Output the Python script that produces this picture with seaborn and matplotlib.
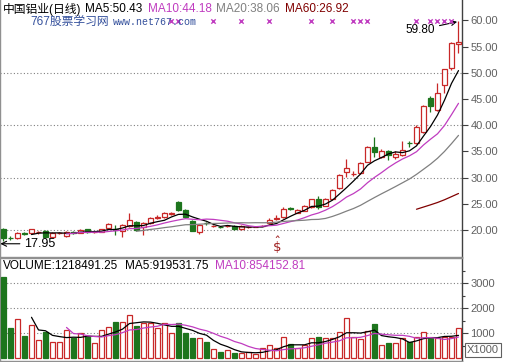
import numpy as np
import pandas as pd
import matplotlib
matplotlib.use('Agg')
import matplotlib.pyplot as plt
import matplotlib.transforms as mtransforms
from matplotlib.patches import Rectangle
import seaborn as sns

# daily bars (price in yuan, volume in thousands of lots)
opens = [20.1, 18.5, 18.5, 19.4, 19.4, 19.6, 19.9, 18.6, 19.35, 18.8,
         19.6, 19.5, 20.1, 19.6, 19.7, 20.3, 20.1, 19.9, 20.8, 21.6,
         20.5, 21.4, 22.2, 22.4, 23.1, 25.3, 23.9, 21.8, 19.7, 21.3,
         20.75, 20.55, 20.75, 20.8, 20.1, 20.55, 20.55, 20.75, 21.3, 22.1,
         22.4, 24.2, 23.3, 23.7, 24.3, 26.0, 24.6, 26.0, 28.0, 31.1,
         30.7, 30.9, 33.0, 35.9, 34.0, 35.1, 34.0, 34.3, 36.7, 36.6,
         38.8, 45.2, 43.0, 47.7, 51.0, 55.5]
highs = [20.3, 18.8, 19.7, 19.6, 20.2, 19.8, 20.0, 19.6, 19.6, 19.8,
         19.8, 20.1, 20.2, 19.8, 20.2, 21.3, 21.0, 21.2, 23.2, 21.8,
         21.5, 22.4, 22.8, 23.4, 23.4, 25.5, 24.0, 21.9, 21.1, 21.5,
         21.0, 20.6, 21.0, 20.9, 20.9, 20.8, 20.7, 20.9, 22.3, 22.9,
         24.3, 24.3, 24.0, 24.7, 26.0, 26.4, 26.1, 27.8, 30.6, 33.5,
         31.2, 32.9, 36.0, 37.7, 35.5, 35.3, 35.0, 37.0, 37.0, 40.0,
         43.8, 45.6, 48.0, 50.8, 55.8, 59.8]
lows = [17.95, 18.1, 18.3, 19.0, 19.3, 19.3, 18.6, 18.4, 19.2, 18.6,
        19.3, 19.4, 19.5, 19.5, 19.6, 20.2, 19.0, 18.7, 20.6, 19.9,
        19.0, 21.2, 22.1, 22.2, 22.9, 23.6, 22.3, 19.8, 19.2, 21.0,
        20.6, 20.4, 20.6, 20.0, 20.0, 20.4, 20.5, 20.7, 21.2, 22.0,
        22.3, 23.8, 23.2, 23.6, 24.2, 24.1, 24.5, 25.9, 27.9, 30.1,
        30.4, 30.7, 32.9, 34.0, 33.7, 33.3, 33.5, 34.1, 35.8, 36.4,
        38.5, 42.6, 42.8, 46.1, 50.5, 53.8]
closes = [18.4, 18.4, 19.5, 19.3, 20.1, 19.7, 18.7, 19.4, 19.4, 19.7,
          19.5, 20.0, 19.6, 19.7, 20.1, 21.1, 20.0, 21.0, 21.9, 20.0,
          21.4, 22.2, 22.5, 23.2, 23.2, 23.8, 22.4, 19.9, 21.0, 21.25,
          20.8, 20.5, 20.8, 20.1, 20.8, 20.6, 20.6, 20.8, 22.0, 22.2,
          24.1, 24.0, 23.9, 24.6, 25.9, 24.4, 26.0, 27.6, 30.5, 31.9,
          30.75, 32.7, 35.9, 34.8, 35.0, 34.25, 34.6, 35.2, 36.55, 39.7,
          43.6, 43.7, 46.2, 50.7, 55.7, 55.85]
volumes = [3240, 1200, 1560, 880, 1320, 720, 1040, 640, 640, 1120,
           800, 1000, 880, 600, 1120, 1240, 1440, 1440, 1720, 1280,
           1400, 1400, 1200, 1400, 1000, 1400, 1000, 800, 800, 640,
           360, 240, 320, 200, 200, 240, 180, 400, 520, 400,
           840, 560, 400, 520, 800, 840, 820, 820, 1040, 1600,
           840, 760, 1080, 1360, 520, 600, 600, 820, 640, 840,
           1044, 815, 815, 875, 874, 1218.49]
signal_bars = [24, 25, 30, 34, 38, 44, 47, 50, 51, 52, 59, 61, 62, 63, 64]
dollar_bar = 39
price_ticks = [20, 25, 30, 35, 40, 45, 50, 55, 60]
price_grid = [20, 30, 40, 50]
vol_ticks = [1000, 2000, 3000]
# values printed in the chart headers
ma_labels = ['MA5', 'MA10', 'MA20', 'MA60']
ma_values = [50.43, 44.18, 38.06, 26.92]
vol_labels = ['VOLUME', 'MA5', 'MA10']
vol_values = [1218491.25, 919531.75, 854152.81]

df = pd.DataFrame({'open': opens, 'high': highs, 'low': lows,
                   'close': closes, 'vol': volumes})
df['i'] = np.arange(len(df))
df['up'] = df['close'] >= df['open']
for n in [5, 10, 20, 60]:
    df['ma%d' % n] = df['close'].rolling(n).mean()
df['vma5'] = df['vol'].rolling(5).mean()
df['vma10'] = df['vol'].rolling(10).mean()

RED = '#c82828'
GREEN = '#1d751d'
MAG = '#c03cc0'
GRAY = '#808080'
DARKRED = '#800000'

sns.set_theme(style='white')
plt.rcParams['font.family'] = ['Liberation Sans', 'Noto Sans CJK SC']

W, H = 506, 362
fig = plt.figure(figsize=(W / 100, H / 100), dpi=100)
ax1 = fig.add_axes([0, 105 / H, 462 / W, 257 / H])
ax2 = fig.add_axes([0, 1 / H, 462 / W, 103 / H])

bw = 0.7
# candles
for r in df.itertuples():
    c = RED if r.up else GREEN
    lo_body, hi_body = min(r.open, r.close), max(r.open, r.close)
    ax1.vlines(r.i, r.low, r.high, color=c, lw=0.9, zorder=2)
    ax1.add_patch(Rectangle((r.i - bw / 2, lo_body), bw, hi_body - lo_body,
                            facecolor='white' if r.up else GREEN,
                            edgecolor=c, lw=0.9, zorder=3))

sns.lineplot(data=df, x='i', y='ma5', color='black', lw=0.9, ax=ax1, zorder=4)
sns.lineplot(data=df, x='i', y='ma10', color=MAG, lw=0.9, ax=ax1, zorder=4)
sns.lineplot(data=df, x='i', y='ma20', color=GRAY, lw=0.9, ax=ax1, zorder=4)
sns.lineplot(data=df, x='i', y='ma60', color=DARKRED, lw=0.9, ax=ax1, zorder=4)

top = max(highs)
ax1.scatter(signal_bars, [top] * len(signal_bars), marker='x', s=10,
            color=MAG, lw=1.0, zorder=5)

ax1.set_xlim(-0.5, len(df) - 0.5)
ax1.set_ylim(14.85, 63.9)
for lv in price_grid:
    ax1.axhline(lv, color=GRAY, lw=0.8, ls=(0, (1, 2)), zorder=1)

# volume bars
for r in df.itertuples():
    c = RED if r.up else GREEN
    ax2.add_patch(Rectangle((r.i - bw / 2, 0), bw, r.vol,
                            facecolor='white' if r.up else GREEN,
                            edgecolor=c, lw=0.9, zorder=3))
sns.lineplot(data=df, x='i', y='vma5', color='black', lw=0.9, ax=ax2, zorder=4)
sns.lineplot(data=df, x='i', y='vma10', color=MAG, lw=0.9, ax=ax2, zorder=4)
ax2.set_xlim(-0.5, len(df) - 0.5)
ax2.set_ylim(-100, 4000)
for lv in vol_ticks:
    ax2.axhline(lv, color=GRAY, lw=0.8, ls=(0, (1, 2)), zorder=1)

for ax in (ax1, ax2):
    ax.set_xlabel('')
    ax.set_ylabel('')
    ax.set_xticks([])
    ax.yaxis.tick_right()
    ax.tick_params(axis='y', which='both', direction='out', length=4,
                   width=0.8, color='#404040', labelsize=8,
                   labelcolor='#606060', pad=2, right=True, left=False)
    for s in ax.spines.values():
        s.set_color('#909090')
        s.set_linewidth(1.0)
    ax.spines['right'].set_color('#404040')
    ax.patch.set_alpha(0)
ax1.spines['top'].set_visible(False)

ax1.set_yticks(price_ticks)
ax1.set_yticklabels(['%.2f' % t for t in price_ticks])
ax2.set_yticks(vol_ticks)
ax2.set_yticks([500, 1500, 2500, 3500], minor=True)
ax2.tick_params(axis='y', which='minor', length=2)
ax2.set_yticklabels([str(t) for t in vol_ticks])

# header texts
fs = 8.5
def px(x, y):
    return x / W, 1 - y / H

ma_colors = ['black', MAG, GRAY, DARKRED]
ma_x = [85, 148, 216, 285]
fig.text(*px(3, 9), '中国铝业(日线)', fontsize=fs, color='black', va='center')
for lab, val, col, xx in zip(ma_labels, ma_values, ma_colors, ma_x):
    fig.text(*px(xx, 9), '%s:%.2f' % (lab, val), fontsize=fs, color=col,
             va='center')
fig.text(*px(30, 22), '767股票学习网', fontsize=fs, color='#34509c', va='center')
fig.text(*px(113, 22), 'www.net767.com', fontsize=7.2, color='#34509c',
         va='center', family='Liberation Mono')

vol_colors = ['black', 'black', MAG]
vol_x = [3, 125, 215]
for lab, val, col, xx in zip(vol_labels, vol_values, vol_colors, vol_x):
    fig.text(*px(xx, 266), '%s:%.2f' % (lab, val), fontsize=fs, color=col,
             va='center')
fig.text(*px(483, 350), 'X1000', fontsize=8, color='#606060', ha='center',
         va='center', bbox=dict(boxstyle='square,pad=0.15', fc='white',
                                ec='#606060', lw=0.8))

# high / low marks
ihi = int(np.argmax(highs))
ax1.annotate('%.2f' % highs[ihi], xy=(ihi, highs[ihi]), xytext=(-17, -6),
             textcoords='offset points', fontsize=fs, ha='right', va='center',
             color='black',
             arrowprops=dict(arrowstyle='->', color='black', lw=0.8,
                             shrinkA=1, shrinkB=1))
ilo = int(np.argmin(lows))
low_tr = mtransforms.offset_copy(ax1.transData, fig=fig, y=-3, units='dots')
ax1.annotate('%.2f' % lows[ilo], xy=(ilo - 0.45, lows[ilo]), xycoords=low_tr,
             xytext=(ilo + 3.0, lows[ilo]), textcoords=low_tr, fontsize=fs + 0.5,
             ha='left', va='center', color='black',
             arrowprops=dict(arrowstyle='->', color='black', lw=0.8,
                             shrinkA=1, shrinkB=0))

dtr = mtransforms.blended_transform_factory(ax1.transData, ax1.transAxes)
ax1.text(dollar_bar, 0.004, r'$\hat{\$}$', transform=dtr, fontsize=9.5,
         color='#a02020', ha='center', va='bottom', fontweight='bold')

fig.savefig('out.png', dpi=100)
